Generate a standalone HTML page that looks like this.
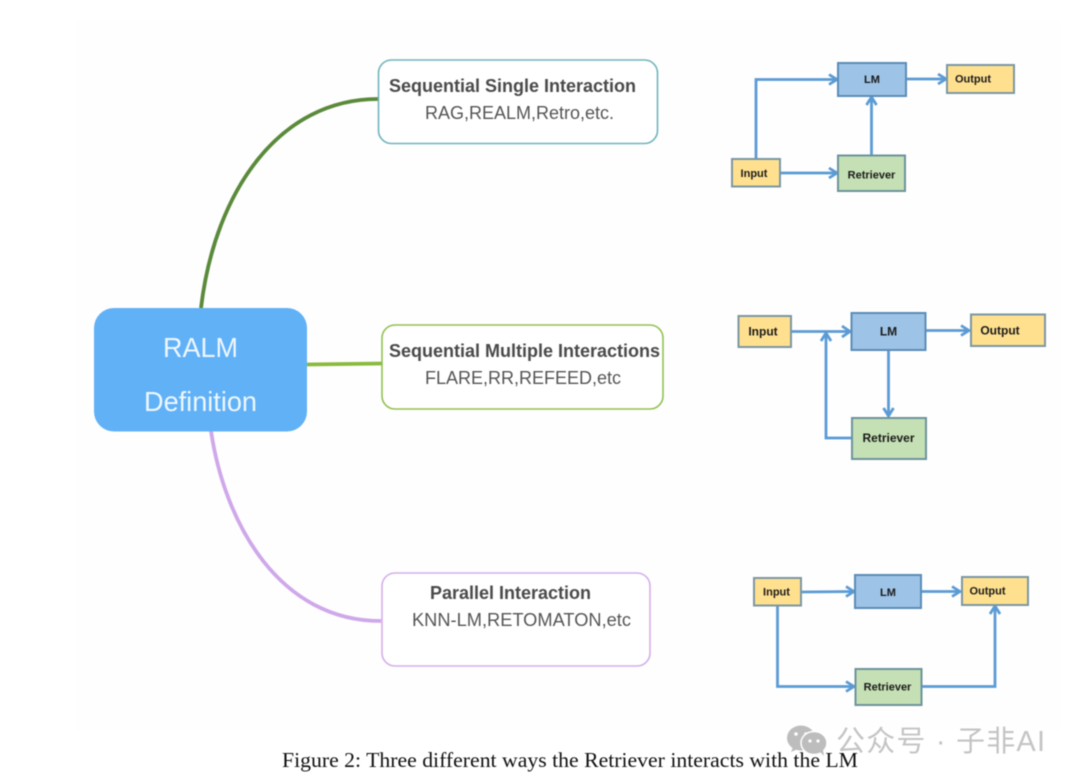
<!DOCTYPE html>
<html>
<head>
<meta charset="utf-8">
<style>
html,body{margin:0;padding:0;background:#fff;width:1080px;height:784px;overflow:hidden}
svg{display:block;filter:blur(0.4px)}
.h{font:bold 18px "Liberation Sans",sans-serif;fill:#4a4a4a}
.s{font:18px "Liberation Sans",sans-serif;fill:#555}
.t{font:bold 11px "Liberation Sans",sans-serif;fill:#1a1a1a;text-anchor:middle}
.t2{font:bold 12px "Liberation Sans",sans-serif;fill:#1a1a1a;text-anchor:middle}
.y{fill:#ffe08f;stroke:#7b97a3;stroke-width:2}
.b{fill:#9dc3e6;stroke:#5b8db8;stroke-width:2}
.g{fill:#c5e0b4;stroke:#6c939c;stroke-width:2}
.a{fill:none;stroke:#5b9bd5;stroke-width:2.8}
.ah{fill:none;stroke:#5b9bd5;stroke-width:2.8}
</style>
</head>
<body>
<svg width="1080" height="784" viewBox="0 0 1080 784" xmlns="http://www.w3.org/2000/svg">
<rect x="76" y="20" width="985" height="710" fill="#fefefe"/>

<!-- mind map connectors -->
<path d="M201 308C215 190 280 99 378 99" fill="none" stroke="#5a8a3a" stroke-width="3.800"/>
<path d="M306 364.500L382 363.500" fill="none" stroke="#8aba3e" stroke-width="3.800"/>
<path d="M211 431C225 525 280 621 381 621" fill="none" stroke="#cfa8ea" stroke-width="3.800"/>

<!-- central node -->
<rect x="94" y="308" width="213" height="123.500" rx="20" fill="#61b1f7"/>
<text x="200.500" y="357" text-anchor="middle" font-family="Liberation Sans, sans-serif" font-size="28" textLength="75" lengthAdjust="spacingAndGlyphs" fill="#eef7ff">RALM</text>
<text x="200.500" y="411" text-anchor="middle" font-family="Liberation Sans, sans-serif" font-size="28" textLength="113" lengthAdjust="spacingAndGlyphs" fill="#eef7ff">Definition</text>

<!-- category boxes -->
<rect x="378.500" y="60" width="279" height="83.500" rx="13" fill="#fff" stroke="#6fb4bd" stroke-width="1.600"/>
<text class="h" x="389" y="92" textLength="247" lengthAdjust="spacingAndGlyphs">Sequential Single Interaction</text>
<text class="s" x="425" y="119" textLength="189" lengthAdjust="spacingAndGlyphs">RAG,REALM,Retro,etc.</text>

<rect x="382" y="325" width="281" height="84" rx="13" fill="#fff" stroke="#93c050" stroke-width="1.600"/>
<text class="h" x="389" y="357" textLength="271" lengthAdjust="spacingAndGlyphs">Sequential Multiple Interactions</text>
<text class="s" x="425" y="384" textLength="196" lengthAdjust="spacingAndGlyphs">FLARE,RR,REFEED,etc</text>

<rect x="382" y="573" width="268" height="93" rx="13" fill="#fff" stroke="#d3afea" stroke-width="1.600"/>
<text class="h" x="430" y="599" textLength="161" lengthAdjust="spacingAndGlyphs">Parallel Interaction</text>
<text class="s" x="412" y="626" textLength="219" lengthAdjust="spacingAndGlyphs">KNN-LM,RETOMATON,etc</text>

<!-- diagram 1 -->
<path class="a" d="M756 159V79.500H837"/>
<path class="ah" d="M829 74.500L837 79.500L829 84.500"/>
<path class="a" d="M780 173H837"/>
<path class="ah" d="M829 168L837 173L829 178"/>
<path class="a" d="M871.500 155V97"/>
<path class="ah" d="M866.500 105L871.500 97L876.500 105"/>
<path class="a" d="M906 79H946"/>
<path class="ah" d="M938 74L946 79L938 84"/>
<rect class="b" x="838" y="63" width="68" height="33"/>
<rect class="y" x="947" y="65" width="67" height="28"/>
<rect class="y" x="732" y="159" width="48" height="27.500"/>
<rect class="g" x="838" y="155.500" width="67" height="35.500"/>
<text class="t" x="872" y="83">LM</text>
<text class="t" x="973" y="82.500">Output</text>
<text class="t" x="754" y="177">Input</text>
<text class="t" x="871.500" y="178.500">Retriever</text>

<!-- diagram 2 -->
<path class="a" d="M791 331.500H850"/>
<path class="ah" d="M842 326L850 331.500L842 337"/>
<path class="a" d="M925 330.500H969"/>
<path class="ah" d="M961 325.500L969 330.500L961 335.500"/>
<path class="a" d="M888.500 350V416"/>
<path class="ah" d="M883.500 408L888.500 416L893.500 408"/>
<path class="a" d="M852 438H826V333"/>
<path class="ah" d="M821 341L826 333L831 341"/>
<rect class="y" x="738.500" y="316" width="52.500" height="31"/>
<rect class="b" x="851.500" y="313" width="74" height="37"/>
<rect class="y" x="971" y="314.500" width="74" height="31.500"/>
<rect class="g" x="852" y="418" width="74" height="41"/>
<text class="t2" x="763" y="335.500">Input</text>
<text class="t2" x="888.500" y="335.500">LM</text>
<text class="t2" x="1000" y="334.500">Output</text>
<text class="t2" x="888.500" y="442">Retriever</text>

<!-- diagram 3 -->
<path class="a" d="M802 592L854 591.500"/>
<path class="ah" d="M846 586.500L854 591.500L846 596.500"/>
<path class="a" d="M921 591.500H960"/>
<path class="ah" d="M952 586.500L960 591.500L952 596.500"/>
<path class="a" d="M777.500 606V686.500H854"/>
<path class="ah" d="M846 681.500L854 686.500L846 691.500"/>
<path class="a" d="M922 686.500H995V606"/>
<path class="ah" d="M990 614L995 606L1000 614"/>
<rect class="y" x="754" y="578" width="47" height="27.500"/>
<rect class="b" x="855" y="575" width="66" height="33"/>
<rect class="y" x="962" y="577" width="66" height="28"/>
<rect class="g" x="855.500" y="669" width="66" height="36"/>
<text class="t" x="776.500" y="595.500">Input</text>
<text class="t" x="888" y="596">LM</text>
<text class="t" x="987.500" y="594.500">Output</text>
<text class="t" x="887.500" y="690.500">Retriever</text>

<!-- caption -->
<text x="282" y="767" font-family="Liberation Serif, serif" font-size="21" fill="#111" textLength="576" lengthAdjust="spacingAndGlyphs">Figure 2: Three different ways the Retriever interacts with the LM</text>

<!-- watermark -->
<ellipse cx="801" cy="738" rx="14" ry="12.500" fill="#bdbdbd"/>
<path d="M793 747l-2 5 7-3z" fill="#bdbdbd"/>
<circle cx="796" cy="734" r="1.800" fill="#fff"/>
<circle cx="806" cy="734" r="1.800" fill="#fff"/>
<ellipse cx="814" cy="743" rx="13" ry="11.500" fill="#bdbdbd" stroke="#fff" stroke-width="1.500"/>
<path d="M820 752l4 4-1-6z" fill="#bdbdbd"/>
<circle cx="810" cy="741" r="1.600" fill="#fff"/>
<circle cx="818" cy="741" r="1.600" fill="#fff"/>
<text x="836" y="751" font-family="Liberation Sans, Noto Sans CJK SC, sans-serif" font-size="29" fill="#c4c4c4" textLength="209" lengthAdjust="spacing">公众号 · 子非AI</text>
</svg>
</body>
</html>
